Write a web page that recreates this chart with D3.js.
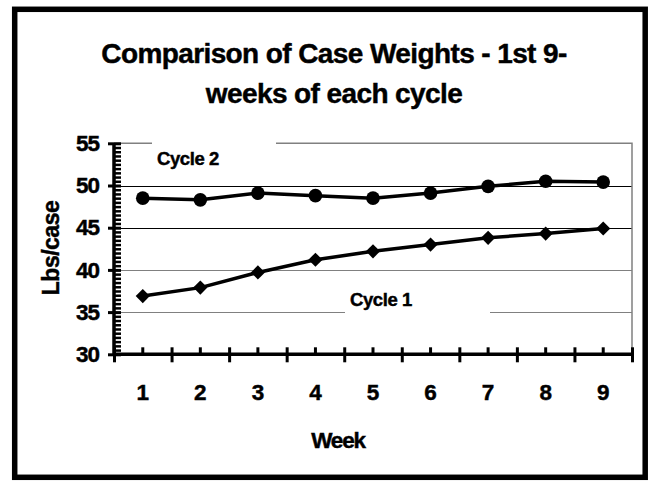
<!DOCTYPE html>
<html>
<head>
<meta charset="utf-8">
<script src="https://cdn.jsdelivr.net/npm/d3@7"></script>
<style>
  body { margin: 0; background: #fff; }
  text { font-family: "Liberation Sans", Arial, sans-serif; font-weight: bold; fill: #000; stroke: #000; stroke-width: 0.45px; }
</style>
</head>
<body>
<div id="chart"></div>
<script>
const weeks = [1, 2, 3, 4, 5, 6, 7, 8, 9];
const cycle1 = [36.9, 37.9, 39.7, 41.2, 42.2, 43.0, 43.8, 44.3, 44.9];
const cycle2 = [48.5, 48.3, 49.1, 48.8, 48.5, 49.1, 49.9, 50.5, 50.4];
const yTicks = [30, 35, 40, 45, 50, 55];
const gridValues = [35, 40, 45, 50];
const titleLines = ['Comparison of Case Weights - 1st 9-', 'weeks of each cycle'];

const width = 652;
const height = 481;
const plotLeft = 114;
const plotRight = 632;
const plotTop = 143.3;
const plotBottom = 354.3;

const svg = d3.select('#chart')
  .append('svg')
    .attr('width', width)
    .attr('height', height);

// outer frame
svg.append('rect')
  .attr('x', 14.7)
  .attr('y', 9.3)
  .attr('width', 630.5)
  .attr('height', 468)
  .attr('fill', 'none')
  .attr('stroke', '#000')
  .attr('stroke-width', 5.5);

svg.selectAll('.title')
  .data(titleLines)
  .enter().append('text')
    .attr('class', 'title')
    .attr('x', 334)
    .attr('y', (d, i) => 63 + i * 40)
    .attr('text-anchor', 'middle')
    .attr('font-size', 28)
    .attr('letter-spacing', -0.6)
    .text(d => d);

const x = d3.scaleBand().domain(weeks).range([plotLeft, plotRight]);
const xEdge = d3.scaleLinear().domain([0, weeks.length]).range([plotLeft, plotRight]);
const y = d3.scaleLinear().domain([30, 55]).range([plotBottom, plotTop]);
const cx = w => x(w) + x.bandwidth() / 2;

// gridlines
svg.selectAll('.grid')
  .data(gridValues)
  .enter().append('line')
    .attr('x1', plotLeft)
    .attr('x2', plotRight)
    .attr('y1', d => Math.round(y(d)) + 0.5)
    .attr('y2', d => Math.round(y(d)) + 0.5)
    .attr('stroke', d => d >= 45 ? '#000' : '#808080')
    .attr('stroke-width', 1);

// plot area border (top + right)
svg.append('path')
  .attr('d', `M${plotLeft},${y(55)}H${plotRight}V${plotBottom}`)
  .attr('fill', 'none')
  .attr('stroke', '#808080')
  .attr('stroke-width', 1.5);

// label boxes
const labels = [
  { text: 'Cycle 2', x: 157, y: 164.5, w: 124 },
  { text: 'Cycle 1', x: 350, y: 305.5, w: 145 }
];
svg.selectAll('.lblbox')
  .data(labels)
  .enter().append('rect')
    .attr('x', d => d.x - 5)
    .attr('y', d => d.y - 25)
    .attr('width', d => d.w)
    .attr('height', 34)
    .attr('fill', '#fff');
svg.selectAll('.lbl')
  .data(labels)
  .enter().append('text')
    .attr('x', d => d.x)
    .attr('y', d => d.y)
    .attr('font-size', 18.5)
    .attr('letter-spacing', -0.4)
    .text(d => d.text);

// y axis
const yAxis = svg.append('g')
  .attr('transform', `translate(${plotLeft},0)`)
  .call(d3.axisLeft(y).tickValues(yTicks).tickSize(6).tickPadding(9));
yAxis.selectAll('.tick line').attr('x2', -6).attr('x1', 7).attr('stroke-width', 3);
yAxis.selectAll('.tick text').attr('font-size', 22.5).attr('letter-spacing', -1).attr('font-family', '"Liberation Sans", Arial, sans-serif');
yAxis.select('.domain').remove();

const minor = d3.range(30, 55.01, 0.5).filter(v => v % 5 !== 0);
const yMinor = svg.append('g')
  .attr('transform', `translate(${plotLeft},0)`)
  .call(d3.axisRight(y).tickValues(minor).tickSize(7).tickFormat(''));
yMinor.selectAll('.tick line').attr('stroke-width', 2.5);
yMinor.select('.domain').remove();

// x axis: major ticks at category edges
const xMajor = svg.append('g')
  .attr('transform', `translate(0,${plotBottom})`)
  .call(d3.axisBottom(xEdge).tickValues(d3.range(0, weeks.length + 1)).tickFormat(''));
xMajor.selectAll('.tick line').attr('y1', -7).attr('y2', 8).attr('stroke-width', 3);
xMajor.select('.domain').remove();

const xMinor = svg.append('g')
  .attr('transform', `translate(0,${plotBottom})`)
  .call(d3.axisTop(x).tickSize(7).tickFormat(''));
xMinor.selectAll('.tick line').attr('stroke-width', 3);
xMinor.select('.domain').remove();

const xLabels = svg.append('g')
  .attr('transform', `translate(0,${plotBottom})`)
  .call(d3.axisBottom(x).tickSize(0).tickPadding(30));
xLabels.selectAll('.tick text').attr('font-size', 22.5).attr('font-family', '"Liberation Sans", Arial, sans-serif');
xLabels.select('.domain').remove();

// axis lines
svg.append('path')
  .attr('d', `M${plotLeft},${plotTop}V${plotBottom}H${plotRight}`)
  .attr('fill', 'none')
  .attr('stroke', '#000')
  .attr('stroke-width', 3.5);

// axis titles
svg.append('text')
  .attr('x', 338)
  .attr('y', 448)
  .attr('text-anchor', 'middle')
  .attr('font-size', 22.5)
  .attr('letter-spacing', -1.2)
  .text('Week');

svg.append('text')
  .attr('transform', 'translate(59,248) rotate(-90)')
  .attr('text-anchor', 'middle')
  .attr('font-size', 23)
  .attr('letter-spacing', -0.5)
  .text('Lbs/case');

// series
const line = d3.line().x((d, i) => cx(weeks[i])).y(d => y(d));

[cycle1, cycle2].forEach(s => {
  svg.append('path')
    .datum(s)
    .attr('d', line)
    .attr('fill', 'none')
    .attr('stroke', '#000')
    .attr('stroke-width', 3.5)
    .attr('stroke-linejoin', 'round');
});

svg.selectAll('.c2')
  .data(cycle2)
  .enter().append('circle')
    .attr('cx', (d, i) => cx(weeks[i]))
    .attr('cy', d => y(d))
    .attr('r', 6.8)
    .attr('fill', '#000');

const diamond = d3.symbol().type(d3.symbolSquare).size(100);
svg.selectAll('.c1')
  .data(cycle1)
  .enter().append('path')
    .attr('d', diamond)
    .attr('transform', (d, i) => `translate(${cx(weeks[i])},${y(d)}) rotate(45)`)
    .attr('fill', '#000');
</script>
</body>
</html>
